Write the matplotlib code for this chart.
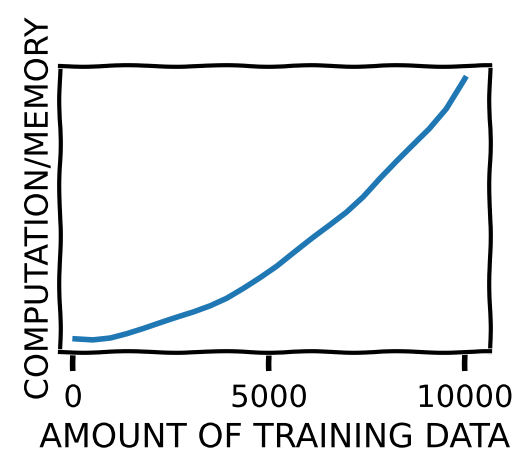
import matplotlib
matplotlib.use("Agg")
import matplotlib.pyplot as plt

# values (y in arbitrary units, 0..100 = axes height)
training_data = [50, 500, 950, 1370, 1800, 2220, 2650, 3070, 3500, 3920,
                 4340, 4770, 5200, 5620, 6130, 6560, 6980, 7400, 7830, 8260,
                 8680, 9100, 9530, 10000]
computation = [4.6, 4.3, 5.0, 6.5, 8.3, 10.2, 12.1, 13.9, 16.1, 18.8,
               22.3, 26.1, 30.1, 34.6, 40.0, 44.4, 48.9, 54.3, 60.8, 66.8,
               72.4, 78.0, 85.0, 95.7]
x_ticks = [0, 5000, 10000]

with plt.xkcd(scale=0.8):
    plt.rcParams["font.family"] = ["DejaVu Sans"]
    fig = plt.figure(figsize=(5.15, 4.53), dpi=100)
    ax = fig.add_axes([0.117, 0.223, 0.834, 0.631])
    line, = ax.plot(training_data, computation, color="#1f77b4", lw=4)
    line.set_sketch_params(scale=0.3, length=150, randomness=1)
    ax.set_xlim(-330, 10640)
    ax.set_ylim(0, 100)
    ax.set_xticks(x_ticks)
    ax.set_yticks([])
    ax.tick_params(axis="x", length=14, width=4, labelsize=22, pad=9)
    for s in ax.spines.values():
        s.set_linewidth(3)
    ax.set_xlabel("AMOUNT OF TRAINING DATA", fontsize=24, labelpad=6)
    ax.set_ylabel("COMPUTATION/MEMORY", fontsize=23, labelpad=4)
    fig.savefig("out.png", dpi=100)
